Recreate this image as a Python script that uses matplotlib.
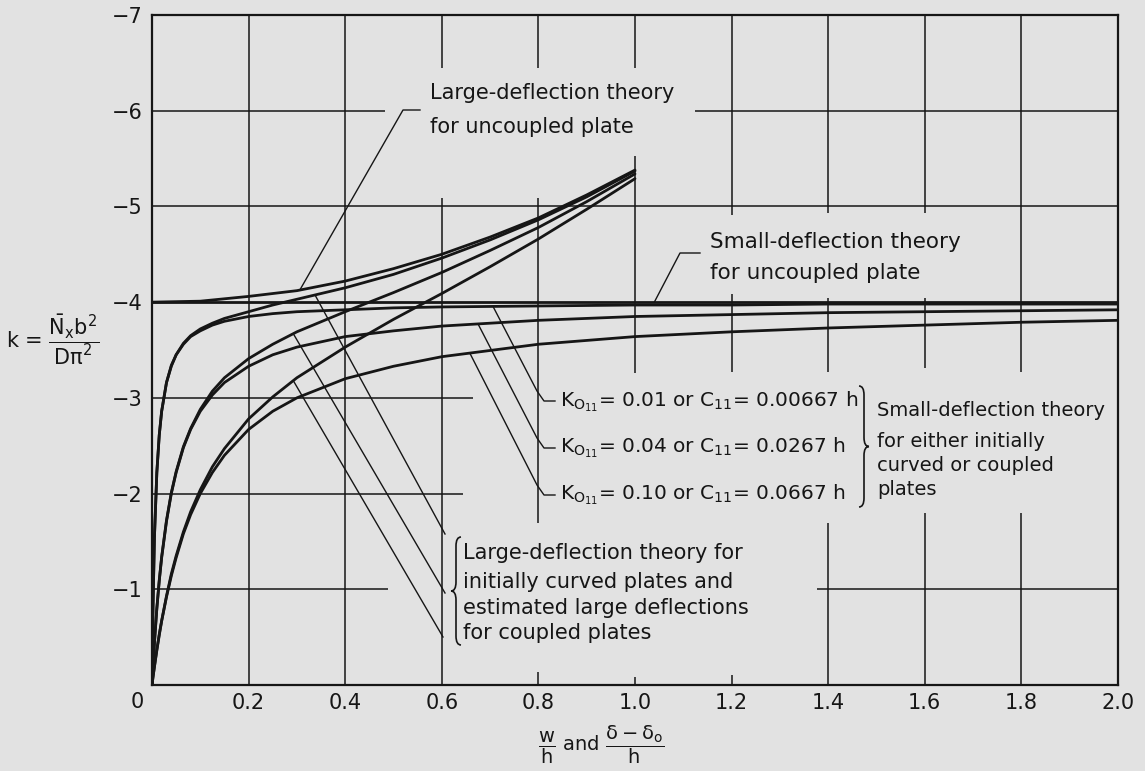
import matplotlib
matplotlib.use("Agg")
import matplotlib.pyplot as plt
import numpy as np
from matplotlib.path import Path
from matplotlib.patches import PathPatch

plt.rcParams['font.family'] = ['DejaVu Sans']
plt.rcParams['mathtext.default'] = 'regular'

BG = "#e2e2e2"
INK = "#161616"

# ---------------- data ----------------
x_small = [0, 0.002, 0.005, 0.01, 0.015, 0.02, 0.03, 0.04, 0.05, 0.065, 0.08, 0.1,
           0.125, 0.15, 0.2, 0.25, 0.3, 0.4, 0.5, 0.6, 0.8, 1.0, 1.2, 1.4, 1.6, 1.8, 2.0]
k_small_K001 = [0, -0.80, -1.54, -2.22, -2.61, -2.86, -3.16, -3.33, -3.45, -3.56, -3.64, -3.70,
                -3.76, -3.80, -3.85, -3.88, -3.90, -3.92, -3.94, -3.95, -3.96, -3.97, -3.97,
                -3.98, -3.98, -3.98, -3.98]
k_small_K004 = [0, -0.19, -0.44, -0.80, -1.09, -1.33, -1.71, -2.00, -2.22, -2.48, -2.67, -2.86,
                -3.03, -3.16, -3.33, -3.45, -3.53, -3.64, -3.70, -3.75, -3.81, -3.85, -3.87,
                -3.89, -3.90, -3.91, -3.92]
k_small_K010 = [0, -0.08, -0.19, -0.36, -0.52, -0.67, -0.92, -1.14, -1.33, -1.58, -1.78, -2.00,
                -2.22, -2.40, -2.67, -2.86, -3.00, -3.20, -3.33, -3.43, -3.56, -3.64, -3.69,
                -3.73, -3.76, -3.79, -3.81]

x_large = [0, 0.002, 0.005, 0.01, 0.015, 0.02, 0.03, 0.04, 0.05, 0.065, 0.08, 0.1,
           0.125, 0.15, 0.2, 0.25, 0.3, 0.4, 0.5, 0.6, 0.7, 0.8, 0.9, 1.0]
k_large_K001 = [0, -0.80, -1.54, -2.22, -2.61, -2.86, -3.16, -3.34, -3.45, -3.57, -3.65, -3.72,
                -3.78, -3.83, -3.90, -3.97, -4.03, -4.15, -4.29, -4.46, -4.65, -4.86, -5.10, -5.37]
k_large_K004 = [0, -0.19, -0.44, -0.80, -1.09, -1.34, -1.72, -2.01, -2.23, -2.49, -2.68, -2.88,
                -3.07, -3.21, -3.41, -3.56, -3.69, -3.90, -4.10, -4.31, -4.54, -4.78, -5.05, -5.34]
k_large_K010 = [0, -0.08, -0.19, -0.37, -0.53, -0.67, -0.93, -1.16, -1.35, -1.60, -1.81, -2.04,
                -2.28, -2.47, -2.78, -3.01, -3.21, -3.53, -3.82, -4.09, -4.37, -4.66, -4.97, -5.29]

x_uncoupled_large = [0, 0.1, 0.2, 0.3, 0.4, 0.5, 0.6, 0.7, 0.8, 0.9, 1.0]
k_uncoupled_large = [-4.00, -4.01, -4.06, -4.12, -4.22, -4.35, -4.50, -4.68, -4.88, -5.12, -5.38]
x_uncoupled_small = [0.0, 2.0]
k_uncoupled_small = [-4.0, -4.0]

x_ticks = [0.2, 0.4, 0.6, 0.8, 1.0, 1.2, 1.4, 1.6, 1.8, 2.0]
x_tick_labels = ["0.2", "0.4", "0.6", "0.8", "1.0", "1.2", "1.4", "1.6", "1.8", "2.0"]
y_ticks = [-7, -6, -5, -4, -3, -2, -1]
y_tick_labels = ["\u22127", "\u22126", "\u22125", "\u22124", "\u22123", "\u22122", "\u22121"]

# ---------------- figure ----------------
W, H = 1145, 771
fig = plt.figure(figsize=(W / 100, H / 100), dpi=100, facecolor=BG)
ax = fig.add_axes([152 / W, 86 / H, 966 / W, 670 / H])
ax.set_facecolor(BG)
ax.set_xlim(0, 2.0)
ax.set_ylim(0, -7)

def P(xp, yp):
    """figure pixel (from top-left) -> data coords"""
    return ax.transData.inverted().transform((xp, H - yp))

# grid (broken where the lettering sits)
grid_kw = dict(color=INK, lw=1.1, zorder=1, solid_capstyle='butt')
v_segments = {
    0.2: [(0, -7)], 0.4: [(0, -7)],
    0.6: [(0, -5.09), (-6.45, -7)],
    0.8: [(0, -0.14), (-1.69, -5.09), (-6.45, -7)],
    1.0: [(0, -0.08), (-3.26, -5.53), (-6.45, -7)],
    1.2: [(0, -0.10), (-3.27, -4.08), (-4.91, -7)],
    1.4: [(0, -1.69), (-3.27, -4.04), (-4.93, -7)],
    1.6: [(0, -1.80), (-3.31, -4.04), (-4.93, -7)],
    1.8: [(0, -1.80), (-3.27, -7)],
}
for xv, segs in v_segments.items():
    for a, b in segs:
        ax.plot([xv, xv], [a, b], **grid_kw)
h_segments = {
    -6: [(0, 0.482), (1.124, 2.0)],
    -5: [(0, 2.0)],
    -3: [(0, 0.665)],
    -2: [(0, 0.644)],
    -1: [(0, 0.489), (1.377, 2.0)],
}
for kv, segs in h_segments.items():
    for a, b in segs:
        ax.plot([a, b], [kv, kv], **grid_kw)

# curves
ckw = dict(color=INK, lw=2.0, zorder=3, solid_capstyle='round')
ax.plot(x_uncoupled_small, k_uncoupled_small, **ckw)
ax.plot(x_uncoupled_large, k_uncoupled_large, **ckw)
for ks in (k_small_K001, k_small_K004, k_small_K010):
    ax.plot(x_small, ks, **ckw)
for kl in (k_large_K001, k_large_K004, k_large_K010):
    ax.plot(x_large, kl, **ckw)

for s in ax.spines.values():
    s.set_color(INK)
    s.set_linewidth(1.6)

ax.set_xticks(x_ticks, x_tick_labels)
ax.set_yticks(y_ticks, y_tick_labels)
ax.tick_params(axis='both', length=0, labelsize=15, colors=INK)
ax.tick_params(axis='x', pad=6)
ax.tick_params(axis='y', pad=7)
fig.text(137 / W, 1 - 702 / H, "0", ha='center', va='center', fontsize=15, color=INK)

# leaders
lkw = dict(color=INK, lw=1.0, zorder=4)
def leader(xs_curve, ks_curve, x0, pix_pts):
    k0 = float(np.interp(x0, xs_curve, ks_curve))
    pts = [P(*p) for p in pix_pts]
    ax.plot([x0] + [p[0] for p in pts], [k0] + [p[1] for p in pts], **lkw)

leader(x_uncoupled_large, k_uncoupled_large, 0.306, [(403, 110), (420, 110)])
leader(x_uncoupled_small, k_uncoupled_small, 1.04, [(680, 253), (700, 253)])
leader(x_small, k_small_K001, 0.706, [(537, 391), (544, 401), (555, 401)])
leader(x_small, k_small_K004, 0.675, [(537, 438), (544, 448), (555, 448)])
leader(x_small, k_small_K010, 0.658, [(537, 485), (544, 495), (555, 495)])
leader(x_large, k_large_K001, 0.3375, [(445, 534)])
leader(x_large, k_large_K004, 0.2925, [(445, 593)])
leader(x_large, k_large_K010, 0.2925, [(443, 637)])

# braces
def brace(xp, y0, y1, w, d):
    ym = (y0 + y1) / 2
    r = w * 0.9
    pix = [(xp - d * w / 2, y0), (xp, y0), (xp, y0 + r), (xp, ym - r), (xp, ym), (xp + d * w / 2, ym),
           (xp + d * w / 2, ym), (xp, ym), (xp, ym + r), (xp, y1 - r), (xp, y1), (xp - d * w / 2, y1)]
    codes = [Path.MOVETO, Path.CURVE3, Path.CURVE3, Path.LINETO, Path.CURVE3, Path.CURVE3,
             Path.MOVETO, Path.CURVE3, Path.CURVE3, Path.LINETO, Path.CURVE3, Path.CURVE3]
    verts = [P(*p) for p in pix]
    ax.add_patch(PathPatch(Path(verts, codes), fill=False, ec=INK, lw=1.2, zorder=4))

brace(864, 386, 507, 10, +1)
brace(456, 537, 645, 10, -1)

# lettering
def T(xp, yp, s, fs=14.5):
    fig.text(xp / W, 1 - yp / H, s, ha='left', va='center', fontsize=fs, color=INK)

T(430, 93, "Large-deflection theory", 15)
T(430, 127, "for uncoupled plate", 15)
T(710, 242, "Small-deflection theory", 15.5)
T(710, 273, "for uncoupled plate", 15.5)
T(560, 402, r"K$_{O_{11}}$= 0.01 or C$_{11}$= 0.00667 h")
T(560, 448, r"K$_{O_{11}}$= 0.04 or C$_{11}$= 0.0267 h")
T(560, 495, r"K$_{O_{11}}$= 0.10 or C$_{11}$= 0.0667 h")
T(877, 410, "Small-deflection theory", 14)
T(877, 442, "for either initially", 14)
T(877, 466, "curved or coupled", 14)
T(877, 490, "plates", 14)
T(463, 553, "Large-deflection theory for", 15)
T(463, 582, "initially curved plates and", 15)
T(463, 608, "estimated large deflections", 15)
T(463, 633, "for coupled plates", 15)

fig.text(6 / W, 1 - 340 / H, r"k = $\dfrac{\bar{N}_x b^2}{D\pi^2}$", ha='left', va='center',
         fontsize=15, color=INK)
fig.text(601 / W, 1 - 745 / H, r"$\dfrac{w}{h}$ and $\dfrac{\delta - \delta_o}{h}$", ha='center',
         va='center', fontsize=14, color=INK)

fig.savefig("out.png", dpi=100, facecolor=BG)
